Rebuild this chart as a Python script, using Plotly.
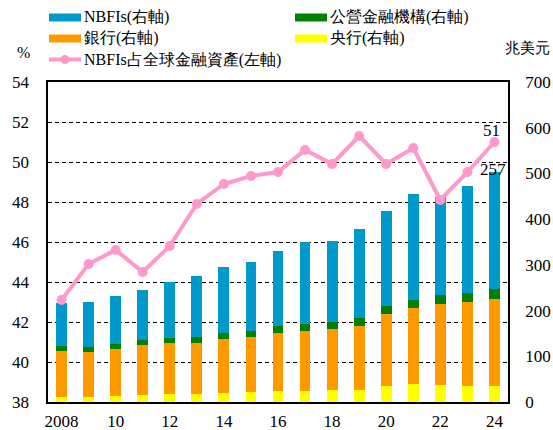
import plotly.graph_objects as go

# ---------------- data ----------------
years = list(range(2008, 2025))
central_bank = [12, 12, 14, 16, 18, 18, 20, 21, 24, 25, 26, 26, 35, 39, 37, 35, 34]
banks = [100, 97, 101, 109, 112, 112, 118, 121, 128, 131, 134, 141, 157, 166, 177, 183, 191]
public_fi = [11, 11, 11, 11, 11, 13, 12, 13, 15, 15, 16, 17, 18, 19, 19, 21, 22]
nbfi = [94, 99, 106, 110, 121, 132, 145, 151, 163, 178, 176, 194, 208, 230, 216, 234, 257]
nbfi_share = [43.1, 44.9, 45.6, 44.5, 45.8, 47.9, 48.9, 49.3, 49.5, 50.6, 49.9, 51.3, 49.9, 50.7, 48.1, 49.5, 51.0]
tick_years = [2008, 2010, 2012, 2014, 2016, 2018, 2020, 2022, 2024]
tick_text = ["2008", "10", "12", "14", "16", "18", "20", "22", "24"]

names = {
    "nbfi": "NBFIs(右軸)",
    "public": "公營金融機構(右軸)",
    "banks": "銀行(右軸)",
    "central": "央行(右軸)",
    "share": "NBFIs占全球金融資產(左軸)",
}

C_BLUE = "#0099CC"
C_GREEN = "#008000"
C_ORANGE = "#FF9900"
C_YELLOW = "#FFFF00"
C_PINK = "#FF99CC"

W, H = 553, 430
ML, MR, MT, MB = 48, 45, 82, 28
PW, PH = W - ML - MR, H - MT - MB

def px(x):
    return (x - ML) / PW

def py(y):
    return (H - MB - y) / PH

FONT = "Liberation Serif"

fig = go.Figure()
for vals, col, key in [(central_bank, C_YELLOW, "central"), (banks, C_ORANGE, "banks"),
                       (public_fi, C_GREEN, "public"), (nbfi, C_BLUE, "nbfi")]:
    fig.add_trace(go.Bar(x=years, y=vals, name=names[key], marker_color=col,
                         marker_line_width=0, width=0.4, yaxis="y", showlegend=False))

fig.add_trace(go.Scatter(x=years, y=nbfi_share, name=names["share"], mode="lines+markers",
                         line=dict(color=C_PINK, width=4), marker=dict(size=10, color=C_PINK),
                         yaxis="y2", showlegend=False))

total_last = central_bank[-1] + banks[-1] + public_fi[-1] + nbfi[-1]
annotations = [
    dict(x=years[-1], y=nbfi_share[-1], xref="x", yref="y2", text=f"{nbfi_share[-1]:.0f}",
         showarrow=False, yshift=12, xshift=-3, font=dict(size=17, color="black", family=FONT)),
    dict(x=years[-1], y=total_last, xref="x", yref="y", text=f"{nbfi[-1]}",
         showarrow=False, yshift=2, xshift=-1, font=dict(size=17, color="black", family=FONT)),
    dict(x=px(15), y=py(52), xref="paper", yref="paper", text="%", showarrow=False,
         xanchor="left", yanchor="middle", font=dict(size=16, color="black", family=FONT)),
    dict(x=px(552), y=py(48), xref="paper", yref="paper", text="兆美元", showarrow=False,
         xanchor="right", yanchor="middle", font=dict(size=15, color="black", family=FONT)),
]

shapes = []
legend_items = [
    ("nbfi", C_BLUE, 49, 17.5, "bar"),
    ("public", C_GREEN, 295, 17.5, "bar"),
    ("banks", C_ORANGE, 49, 38.5, "bar"),
    ("central", C_YELLOW, 295, 38.5, "bar"),
    ("share", C_PINK, 49, 59.5, "line"),
]
for key, col, x0, yc, kind in legend_items:
    if kind == "bar":
        shapes.append(dict(type="rect", xref="paper", yref="paper",
                           x0=px(x0), x1=px(x0 + 32), y0=py(yc + 4), y1=py(yc - 4),
                           fillcolor=col, line=dict(width=0)))
    else:
        shapes.append(dict(type="line", xref="paper", yref="paper",
                           x0=px(x0), x1=px(x0 + 32), y0=py(yc), y1=py(yc),
                           line=dict(color=col, width=4)))
        shapes.append(dict(type="circle", xref="paper", yref="paper",
                           x0=px(x0 + 11.5), x1=px(x0 + 20.5), y0=py(yc + 4.5), y1=py(yc - 4.5),
                           fillcolor=col, line=dict(width=0)))
    annotations.append(dict(x=px(x0 + 33), y=py(yc), xref="paper", yref="paper",
                            text=names[key], showarrow=False, xanchor="left", yanchor="middle",
                            font=dict(size=16, color="black", family=FONT)))

fig.update_layout(
    width=W, height=H,
    margin=dict(l=ML, r=MR, t=MT, b=MB, autoexpand=False),
    paper_bgcolor="white", plot_bgcolor="white",
    barmode="stack", bargap=0.6,
    showlegend=False,
    font=dict(family=FONT, size=17, color="black"),
    xaxis=dict(range=[2007.5, 2024.5], tickvals=tick_years, ticktext=tick_text,
               showgrid=False, showline=True, linecolor="black", linewidth=1.5, mirror=True,
               ticks="", ticklabelstandoff=3, tickfont=dict(size=17, family=FONT)),
    yaxis=dict(range=[0, 700], dtick=100, side="right", showgrid=False,
               showline=True, linecolor="black", linewidth=1.5, mirror=True,
               ticks="", ticklabelstandoff=12, tickfont=dict(size=17, family=FONT)),
    yaxis2=dict(range=[38, 54], dtick=2, side="left", overlaying="y",
                showgrid=True, gridcolor="black", griddash="4px,3px", gridwidth=1,
                showline=False, zeroline=False,
                ticks="", ticklabelstandoff=18, tickfont=dict(size=17, family=FONT)),
    annotations=annotations,
    shapes=shapes,
)

fig.write_html("out.html", config={"displayModeBar": False},
               post_script="document.body.style.margin='0px';document.body.style.padding='0px';")
